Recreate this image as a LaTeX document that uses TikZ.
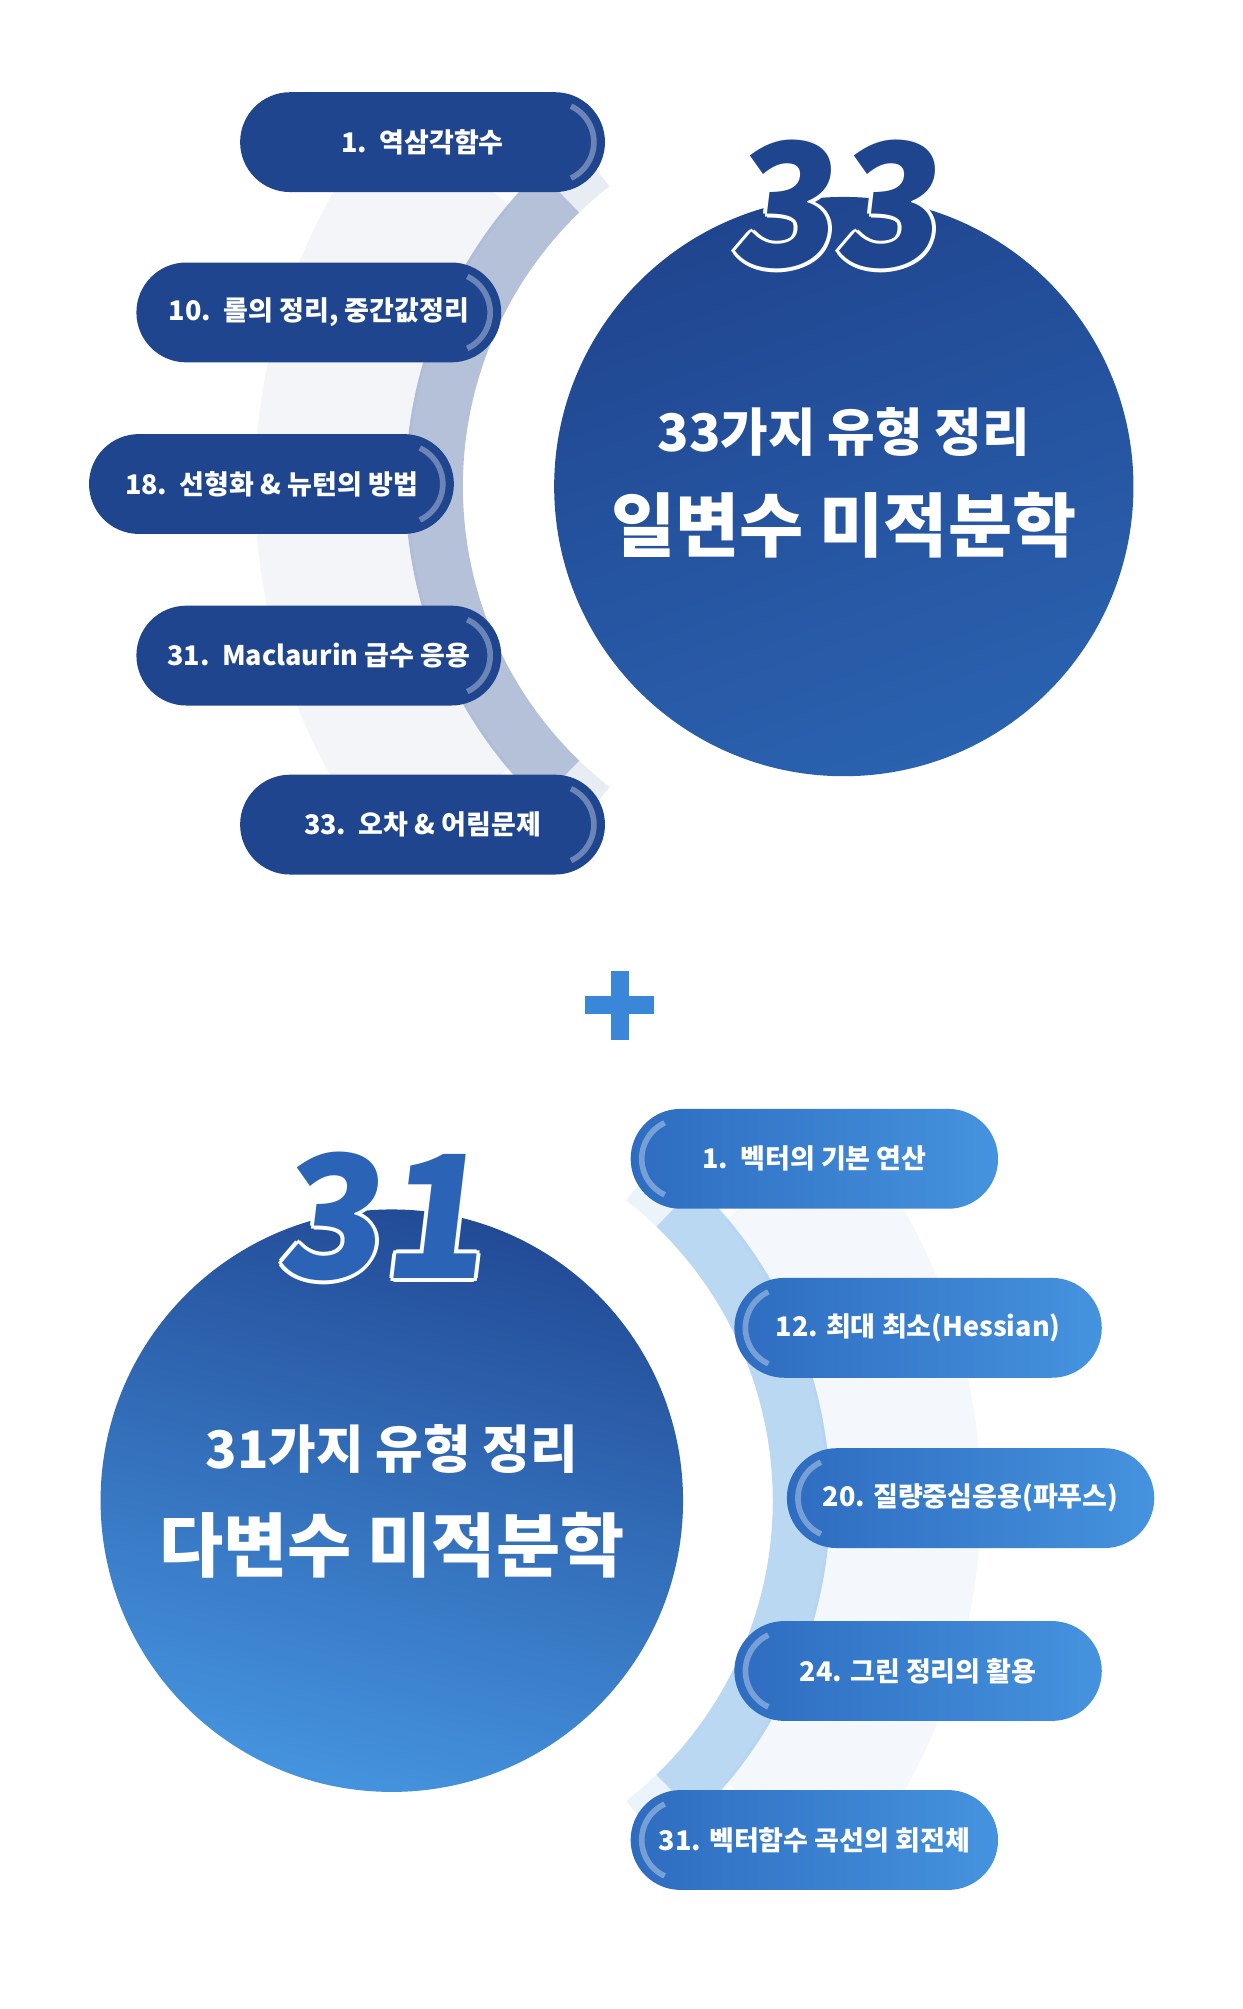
\documentclass[tikz,border=0pt]{standalone}
\usepackage{fontspec}
\setmainfont{Noto Sans CJK KR}
\usetikzlibrary{shapes.misc}
\definecolor{navy}{HTML}{20458F}
\definecolor{navyB}{HTML}{2A62B0}
\definecolor{skyA}{HTML}{2E6CC0}
\definecolor{skyB}{HTML}{4593DE}
\definecolor{plusc}{HTML}{3A86D8}
\tikzset{
 pillT/.style={rounded rectangle, minimum width=5.7cm, minimum height=1.56cm, fill=navy, text=white, font=\bfseries\fontsize{12}{14}\selectfont, inner sep=0pt},
 pillB/.style={rounded rectangle, minimum width=5.74cm, minimum height=1.56cm, left color=skyA, right color=skyB, text=white, font=\bfseries\fontsize{12}{14}\selectfont, inner sep=0pt},
 big/.style={text=white, font=\bfseries\fontsize{23}{26}\selectfont},
 huge/.style={text=white, font=\bfseries\fontsize{31}{36}\selectfont},
 numf/.style={font=\bfseries\fontsize{76}{80}\selectfont, xslant=0.12, inner sep=0pt},
 hl/.style={white, opacity=0.35, line width=2.5pt}
}
\begin{document}
\begin{tikzpicture}[x=0.02cm,y=-0.02cm]
\useasboundingbox (0,0) rectangle (970,1569);
\fill[white] (0,0) rectangle (970,1569);
% top glow + band
\draw[line width=2.4cm, navy, opacity=0.05] (659,380) ++(140:400) arc[start angle=140,end angle=220,radius=400];
\draw[line width=0.9cm, navy!55, opacity=0.6] (659,380) ++(134:320) arc[start angle=134,end angle=226,radius=320];
\draw[line width=0.9cm, navy!25, opacity=0.4] (659,380) ++(128:320) arc[start angle=128,end angle=134,radius=320];
\draw[line width=0.9cm, navy!25, opacity=0.4] (659,380) ++(226:320) arc[start angle=226,end angle=232,radius=320];
% top circle
\node[circle, minimum size=9.05cm, shading=axis, top color=navy, bottom color=navyB, shading angle=20, inner sep=0pt] (c1) at (659,380) {};
\foreach \dx/\dy in {3/0,-3/0,0/3,0/-3,2/2,-2/2,2/-2,-2/-2}{
 \node[numf, text=white] at (657+\dx,160+\dy) {33};}
\node[numf, text=navy] (n33) at (657,160) {33};
\node[big] (t1) at (659,337) {33가지 유형 정리};
\node[huge] (h1) at (659,410) {일변수 미적분학};
% top pills
\node[pillT] (p1) at (330,111) {1.\ \ 역삼각함수};
\node[pillT] (p2) at (249,244) {10.\ \ 롤의 정리, 중간값정리};
\node[pillT] (p3) at (212,378) {18.\ \ 선형화 \& 뉴턴의 방법};
\node[pillT] (p4) at (249,512) {31.\ \ Maclaurin 급수 응용};
\node[pillT] (p5) at (330,644) {33.\ \ 오차 \& 어림문제};
\foreach \p in {p1,p2,p3,p4,p5}{
 \draw[hl] ([xshift=-0.8cm]\p.east) ++(65:0.62cm) arc[start angle=65,end angle=-65,radius=0.62cm];}
% plus
\fill[plusc] (457,778) rectangle (511,792);
\fill[plusc] (477,758) rectangle (491,812);
% bottom glow + band
\draw[line width=2.4cm, skyA, opacity=0.05] (306,1172) ++(-40:400) arc[start angle=-40,end angle=40,radius=400];
\draw[line width=0.9cm, skyB!60, opacity=0.6] (306,1172) ++(-46:320) arc[start angle=-46,end angle=46,radius=320];
\draw[line width=0.9cm, skyB!25, opacity=0.4] (306,1172) ++(-52:320) arc[start angle=-52,end angle=-46,radius=320];
\draw[line width=0.9cm, skyB!25, opacity=0.4] (306,1172) ++(46:320) arc[start angle=46,end angle=52,radius=320];
\node[circle, minimum size=9.1cm, shading=axis, top color=navy!85!skyA, bottom color=skyB, shading angle=-15, inner sep=0pt] (c2) at (306,1172) {};
\foreach \dx/\dy in {3/0,-3/0,0/3,0/-3,2/2,-2/2,2/-2,-2/-2}{
 \node[numf, text=white] at (303+\dx,950+\dy) {31};}
\node[numf, text=skyA!80!navy] (n31) at (303,950) {31};
\node[big] (t2) at (306,1132) {31가지 유형 정리};
\node[huge] (h2) at (306,1207) {다변수 미적분학};
\node[pillB] (q1) at (636,905) {1.\ \ 벡터의 기본 연산};
\node[pillB] (q2) at (717,1037) {12. 최대 최소(Hessian)};
\node[pillB] (q3) at (758,1170) {20. 질량중심응용(파푸스)};
\node[pillB] (q4) at (717,1305) {24. 그린 정리의 활용};
\node[pillB] (q5) at (636,1437) {31. 벡터함수 곡선의 회전체};
\foreach \p in {q1,q2,q3,q4,q5}{
 \draw[hl] ([xshift=0.8cm]\p.west) ++(115:0.62cm) arc[start angle=115,end angle=245,radius=0.62cm];}
\end{tikzpicture}
\end{document}
